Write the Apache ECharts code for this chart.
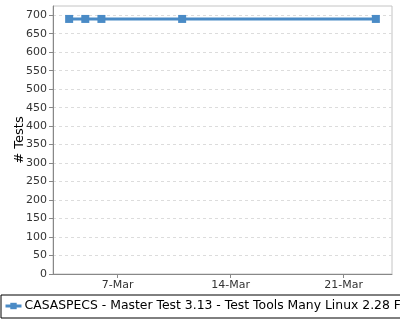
<!DOCTYPE html>
<html><head><meta charset="utf-8">
<script src="https://cdn.jsdelivr.net/npm/echarts@6/dist/echarts.min.js"></script>
<style>html,body{margin:0;padding:0;background:#fff}#c{width:400px;height:320px}</style>
</head><body><div id="c"></div>
<script>
var dates = ['2023-03-04','2023-03-05','2023-03-06','2023-03-11','2023-03-23'];
var tests = [690, 690, 690, 690, 690];
var seriesName = 'CASASPECS - Master Test 3.13 - Test Tools Many Linux 2.28 Full';
var xTickDates = ['2023-03-07','2023-03-14','2023-03-21'];
var yTicks = [0,50,100,150,200,250,300,350,400,450,500,550,600,650,700];
var months = ['Jan','Feb','Mar','Apr','May','Jun','Jul','Aug','Sep','Oct','Nov','Dec'];
var DAY = 86400000;
function dn(s){var p=s.split('-');return Date.UTC(+p[0],+p[1]-1,+p[2])/DAY;}
var chart = echarts.init(document.getElementById('c'), null, {renderer:'canvas'});
var font = 'DejaVu Sans';
chart.setOption({
  animation:false,
  textStyle:{fontFamily:font},
  grid:{left:53,right:8,top:6,bottom:46,outerBoundsMode:'none',containLabel:false,show:true,borderColor:'#c4c4c4',borderWidth:1,backgroundColor:'#fff'},
  legend:{
    left:1,top:295,itemWidth:16,itemHeight:8,itemGap:0,padding:[5,4,6,3],
    borderColor:'#000',borderWidth:1,borderRadius:0,
    lineStyle:{width:3},
    textStyle:{fontFamily:font,fontSize:12.4,color:'#000',padding:[0,0,0,-2]},
    data:[{name:seriesName}]
  },
  xAxis:{
    type:'value',min:dn('2023-03-03'),max:dn('2023-03-24'),
    axisLine:{show:true,lineStyle:{color:'#888'}},
    axisTick:{show:true,length:4,lineStyle:{color:'#888'},customValues:xTickDates.map(dn)},
    axisLabel:{customValues:xTickDates.map(dn),fontFamily:font,fontSize:11,color:'#333',margin:6,
      formatter:function(v){var d=new Date(v*DAY);return d.getUTCDate()+'-'+months[d.getUTCMonth()];}},
    splitLine:{show:false}
  },
  yAxis:{
    type:'value',min:0,max:725,
    name:'# Tests',nameLocation:'middle',nameGap:27,nameMoveOverlap:false,nameTextStyle:{fontFamily:font,fontSize:13,color:'#000'},
    axisLine:{show:true,lineStyle:{color:'#888'}},
    axisTick:{show:true,length:4,lineStyle:{color:'#888'},customValues:yTicks},
    axisLabel:{customValues:yTicks,fontFamily:font,fontSize:11,color:'#333',margin:6},
    splitLine:{show:true,lineStyle:{color:'#dcdcdc',type:[3,3],width:1}}
  },
  series:[{
    name:seriesName,type:'line',
    data:dates.map(function(d,i){return [dn(d),tests[i]];}),
    symbol:'rect',symbolSize:8,
    lineStyle:{color:'#4a8bc6',width:3},
    itemStyle:{color:'#4a8bc6'}
  }]
});
</script></body></html>
